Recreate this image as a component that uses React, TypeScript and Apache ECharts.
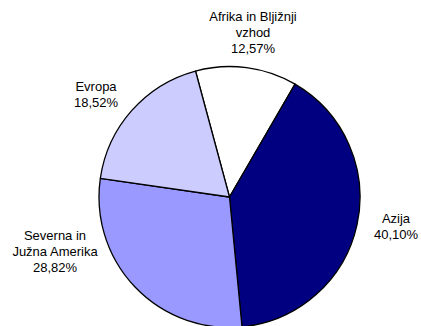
import React, { useEffect, useRef } from "react";
import * as echarts from "echarts";

const categories = ["Afrika in Bljižnji\nvzhod", "Azija", "Severna in\nJužna Amerika", "Evropa"];
const values = [12.57, 40.1, 28.82, 18.52];
const colors = ["#FFFFFF", "#000080", "#9999FF", "#CCCCFF"];
// label centre positions (layout only)
const labelPos: [number, number][] = [
  [253, 32],
  [396, 226],
  [55, 251],
  [96, 94],
];

export default function App() {
  const ref = useRef<HTMLDivElement>(null);
  useEffect(() => {
    document.body.style.margin = "0";
    const chart = echarts.init(ref.current!, null, { renderer: "svg" });
    chart.setOption({
      animation: false,
      backgroundColor: "#FFFFFF",
      series: [
        {
          type: "pie",
          center: [229.5, 197],
          radius: 130.5,
          startAngle: 105.1,
          clockwise: true,
          silent: true,
          avoidLabelOverlap: false,
          data: categories.map((name, i) => ({
            name,
            value: values[i],
            itemStyle: { color: colors[i] },
          })),
          itemStyle: { borderColor: "#000000", borderWidth: 1.3 },
          label: {
            show: true,
            position: "outside",
            alignTo: "none",
            overflow: "none",
            bleedMargin: 0,
            fontFamily: "Liberation Sans, Arial, sans-serif",
            fontSize: 13,
            lineHeight: 16,
            color: "#000000",
            align: "center",
            formatter: (p: any) => `${p.name}\n${p.value.toFixed(2).replace(".", ",")}%`,
          },
          labelLine: { show: false },
          labelLayout: (p: any) => ({
            x: labelPos[p.dataIndex][0],
            y: labelPos[p.dataIndex][1],
            align: "center",
            verticalAlign: "middle",
          }),
        },
      ],
    });
    return () => chart.dispose();
  }, []);
  return <div ref={ref} style={{ width: 421, height: 326 }} />;
}
